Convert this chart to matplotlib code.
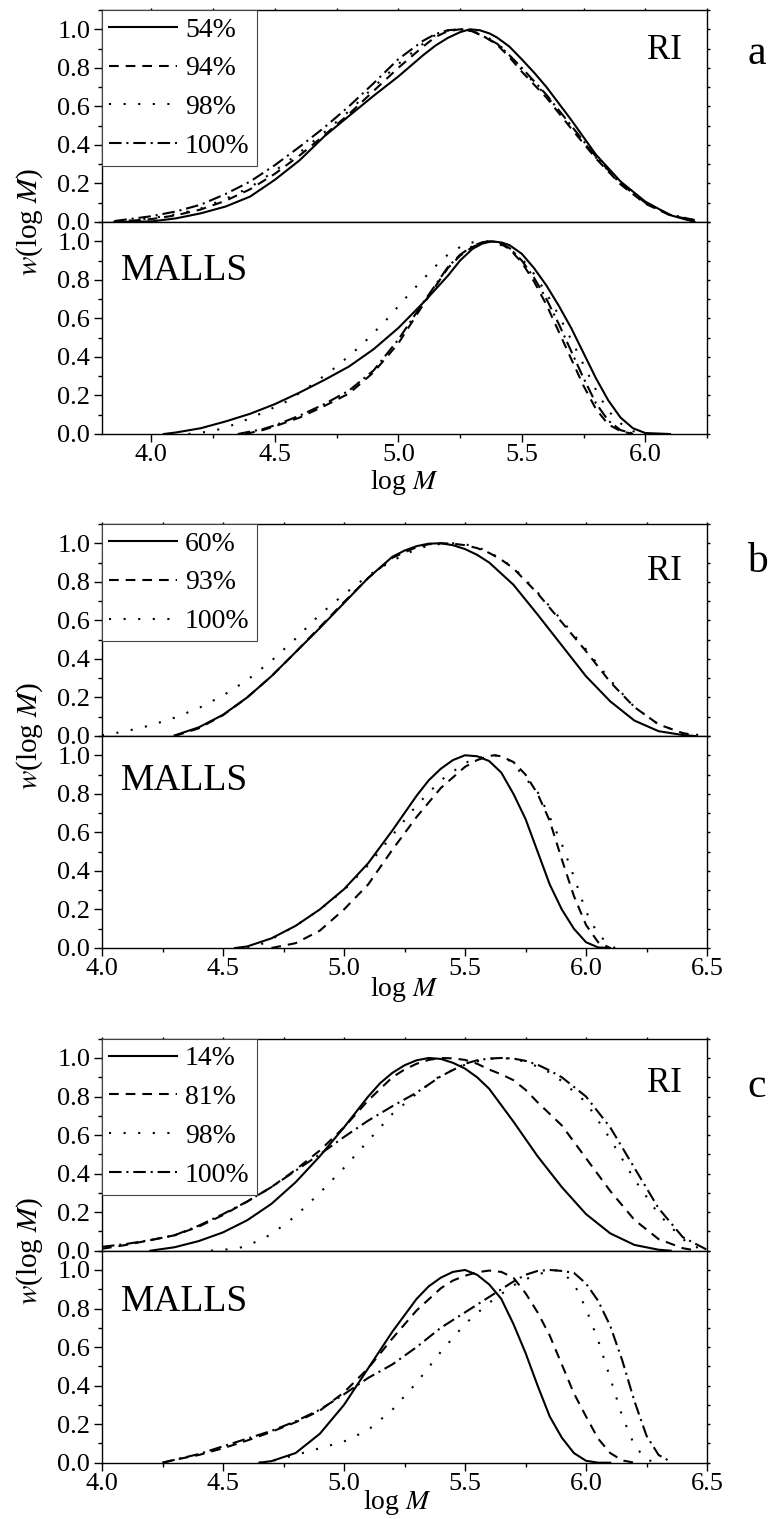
import matplotlib.pyplot as plt
from matplotlib.ticker import MultipleLocator, FormatStrFormatter

plt.rcParams['font.family'] = ['Liberation Serif', 'DejaVu Serif']
plt.rcParams['mathtext.fontset'] = 'stix'
plt.rcParams['lines.scale_dashes'] = False
plt.rcParams['axes.linewidth'] = 1.0

W, H = 773, 1519

# ---- panel a: conversions 54 / 94 / 98 / 100 % ----
a_labels = ['54%', '94%', '98%', '100%']

a_ri_x54 = [3.85, 4.0, 4.1, 4.2, 4.3, 4.4, 4.5, 4.6, 4.7, 4.8, 4.9, 5.0, 5.1, 5.15, 5.2, 5.25, 5.29, 5.33,
            5.37, 5.4, 5.45, 5.5, 5.55, 5.6, 5.7, 5.8, 5.9, 6.0, 6.1, 6.2]
a_ri_w54 = [0.0, 0.003, 0.019, 0.045, 0.08, 0.132, 0.219, 0.32, 0.444, 0.55, 0.655, 0.755, 0.865, 0.915,
            0.955, 0.985, 1.0, 0.995, 0.978, 0.957, 0.91, 0.844, 0.775, 0.70, 0.53, 0.35, 0.21, 0.106, 0.036,
            0.0]
a_ri_x = [3.85, 4.0, 4.1, 4.2, 4.3, 4.4, 4.5, 4.6, 4.7, 4.8, 4.9, 5.0, 5.1, 5.15, 5.2, 5.25, 5.3, 5.35, 5.4,
          5.45, 5.5, 5.6, 5.7, 5.8, 5.9, 6.0, 6.1, 6.2]
a_ri_w94 = [0.0, 0.015, 0.035, 0.065, 0.11, 0.17, 0.25, 0.345, 0.45, 0.56, 0.68, 0.8, 0.91, 0.96, 0.99, 1.0,
            0.99, 0.96, 0.92, 0.855, 0.78, 0.645, 0.485, 0.33, 0.195, 0.095, 0.035, 0.008]
a_ri_w98 = [0.0, 0.02, 0.04, 0.07, 0.12, 0.18, 0.265, 0.36, 0.465, 0.575, 0.7, 0.82, 0.925, 0.97, 0.993, 1.0,
            0.992, 0.965, 0.93, 0.865, 0.79, 0.655, 0.495, 0.335, 0.2, 0.1, 0.038, 0.01]
a_ri_w100 = [0.005, 0.03, 0.055, 0.09, 0.145, 0.21, 0.295, 0.39, 0.49, 0.6, 0.72, 0.845, 0.94, 0.975, 0.995,
             1.0, 0.99, 0.96, 0.925, 0.865, 0.8, 0.66, 0.5, 0.34, 0.2, 0.1, 0.038, 0.01]

a_ml_x54 = [4.05, 4.1, 4.2, 4.3, 4.4, 4.5, 4.6, 4.7, 4.8, 4.9, 5.0, 5.1, 5.2, 5.25, 5.3, 5.34, 5.38, 5.42,
            5.45, 5.5, 5.55, 5.6, 5.65, 5.7, 5.75, 5.8, 5.85, 5.9, 5.95, 6.0, 6.1]
a_ml_w54 = [0.0, 0.008, 0.03, 0.065, 0.105, 0.155, 0.215, 0.28, 0.35, 0.44, 0.55, 0.68, 0.82, 0.9, 0.96,
            0.988, 1.0, 0.993, 0.98, 0.935, 0.86, 0.77, 0.665, 0.55, 0.42, 0.29, 0.175, 0.085, 0.03, 0.005,
            0.0]
a_ml_x98 = [4.15, 4.25, 4.35, 4.45, 4.55, 4.65, 4.75, 4.85, 4.95, 5.05, 5.15, 5.2, 5.25, 5.29, 5.33, 5.37,
            5.4, 5.45, 5.5, 5.55, 5.6, 5.65, 5.7, 5.75, 5.8, 5.85, 5.9, 5.95, 6.0]
a_ml_w98 = [0.0, 0.015, 0.055, 0.11, 0.17, 0.255, 0.35, 0.46, 0.59, 0.735, 0.87, 0.93, 0.97, 0.992, 1.0,
            0.998, 0.99, 0.96, 0.91, 0.83, 0.73, 0.615, 0.49, 0.36, 0.23, 0.12, 0.055, 0.015, 0.0]
a_ml_x94 = [4.38, 4.45, 4.5, 4.6, 4.7, 4.8, 4.9, 5.0, 5.1, 5.2, 5.25, 5.3, 5.34, 5.37, 5.41, 5.45, 5.5, 5.55,
            5.6, 5.65, 5.7, 5.75, 5.8, 5.85, 5.9, 5.95]
a_ml_w94 = [0.0, 0.02, 0.04, 0.085, 0.145, 0.21, 0.32, 0.47, 0.67, 0.86, 0.925, 0.97, 0.993, 1.0, 0.99,
            0.96, 0.89, 0.79, 0.67, 0.53, 0.39, 0.25, 0.13, 0.05, 0.015, 0.0]
a_ml_x100 = [4.35, 4.45, 4.5, 4.6, 4.7, 4.8, 4.9, 5.0, 5.1, 5.2, 5.25, 5.3, 5.34, 5.37, 5.41, 5.45, 5.5,
             5.55, 5.6, 5.65, 5.7, 5.75, 5.8, 5.85, 5.9, 5.95]
a_ml_w100 = [0.0, 0.025, 0.045, 0.095, 0.155, 0.225, 0.33, 0.49, 0.68, 0.865, 0.93, 0.975, 0.995, 1.0, 0.993,
             0.965, 0.9, 0.81, 0.7, 0.57, 0.43, 0.29, 0.16, 0.07, 0.02, 0.003]

# ---- panel b: conversions 60 / 93 / 100 % ----
b_labels = ['60%', '93%', '100%']

b_ri_x60 = [4.3, 4.4, 4.5, 4.6, 4.7, 4.8, 4.9, 5.0, 5.1, 5.2, 5.25, 5.3, 5.35, 5.4, 5.45, 5.5, 5.55, 5.6,
            5.7, 5.8, 5.9, 6.0, 6.1, 6.2, 6.3, 6.4, 6.45]
b_ri_w60 = [0.003, 0.045, 0.11, 0.2, 0.31, 0.435, 0.56, 0.69, 0.82, 0.93, 0.962, 0.985, 0.998, 1.0, 0.99,
            0.97, 0.94, 0.9, 0.785, 0.63, 0.47, 0.31, 0.18, 0.08, 0.025, 0.005, 0.0]
b_ri_x93 = [4.3, 4.4, 4.5, 4.6, 4.7, 4.8, 4.9, 5.0, 5.1, 5.2, 5.3, 5.35, 5.4, 5.45, 5.5, 5.55, 5.6, 5.65,
            5.7, 5.8, 5.9, 6.0, 6.1, 6.2, 6.3, 6.4, 6.45]
b_ri_w93 = [0.0, 0.04, 0.108, 0.2, 0.31, 0.435, 0.565, 0.695, 0.82, 0.925, 0.98, 0.995, 1.0, 0.998, 0.99,
            0.975, 0.95, 0.915, 0.87, 0.74, 0.59, 0.44, 0.28, 0.15, 0.06, 0.015, 0.005]
b_ri_x100 = [4.0, 4.1, 4.2, 4.3, 4.4, 4.5, 4.6, 4.7, 4.8, 4.9, 5.0, 5.1, 5.2, 5.3, 5.35, 5.4, 5.45, 5.5,
             5.55, 5.6, 5.7, 5.8, 5.9, 6.0, 6.1, 6.2, 6.3, 6.4, 6.5]
b_ri_w100 = [0.003, 0.025, 0.055, 0.095, 0.145, 0.21, 0.29, 0.39, 0.505, 0.63, 0.735, 0.832, 0.91, 0.97,
             0.987, 0.997, 1.0, 0.995, 0.98, 0.955, 0.875, 0.745, 0.6, 0.45, 0.29, 0.15, 0.06, 0.015, 0.0]

b_ml_x60 = [4.55, 4.6, 4.7, 4.8, 4.9, 5.0, 5.1, 5.2, 5.3, 5.35, 5.4, 5.45, 5.5, 5.55, 5.6, 5.65, 5.7, 5.75,
            5.8, 5.85, 5.9, 5.95, 6.0, 6.05, 6.1]
b_ml_w60 = [0.0, 0.008, 0.05, 0.115, 0.2, 0.305, 0.44, 0.61, 0.79, 0.87, 0.93, 0.975, 1.0, 0.995, 0.97,
            0.91, 0.8, 0.67, 0.5, 0.33, 0.2, 0.1, 0.03, 0.003, 0.0]
b_ml_x93 = [4.7, 4.8, 4.9, 5.0, 5.1, 5.2, 5.3, 5.4, 5.5, 5.55, 5.6, 5.62, 5.65, 5.7, 5.75, 5.8, 5.85, 5.9,
            5.95, 6.0, 6.05, 6.1]
b_ml_w93 = [0.0, 0.025, 0.09, 0.2, 0.33, 0.51, 0.68, 0.83, 0.94, 0.975, 0.996, 1.0, 0.995, 0.965, 0.9, 0.8,
            0.66, 0.46, 0.27, 0.12, 0.03, 0.0]
b_ml_x100 = [4.6, 4.65, 4.7, 4.8, 4.9, 5.0, 5.1, 5.2, 5.3, 5.4, 5.5, 5.55, 5.6, 5.64, 5.67, 5.7, 5.75, 5.8,
             5.85, 5.9, 5.95, 6.0, 6.05, 6.1, 6.12]
b_ml_w100 = [0.0, 0.015, 0.045, 0.115, 0.2, 0.3, 0.43, 0.585, 0.74, 0.87, 0.96, 0.985, 0.997, 1.0, 0.985,
             0.955, 0.88, 0.81, 0.68, 0.54, 0.37, 0.19, 0.07, 0.015, 0.0]

# ---- panel c: conversions 14 / 81 / 98 / 100 % ----
c_labels = ['14%', '81%', '98%', '100%']

c_ri_x14 = [4.2, 4.3, 4.4, 4.5, 4.6, 4.7, 4.8, 4.9, 5.0, 5.1, 5.15, 5.2, 5.25, 5.3, 5.35, 5.4, 5.45, 5.5,
            5.55, 5.6, 5.7, 5.8, 5.9, 6.0, 6.1, 6.2, 6.3, 6.35]
c_ri_w14 = [0.0, 0.018, 0.05, 0.095, 0.158, 0.243, 0.355, 0.49, 0.64, 0.8, 0.87, 0.923, 0.962, 0.988, 1.0,
            0.995, 0.975, 0.945, 0.9, 0.84, 0.67, 0.49, 0.33, 0.19, 0.09, 0.03, 0.005, 0.0]
c_ri_x81 = [4.0, 4.1, 4.2, 4.3, 4.4, 4.5, 4.6, 4.7, 4.8, 4.9, 5.0, 5.1, 5.2, 5.25, 5.3, 5.35, 5.4, 5.45,
            5.5, 5.55, 5.6, 5.65, 5.7, 5.75, 5.8, 5.9, 6.0, 6.1, 6.2, 6.3, 6.4, 6.45]
c_ri_w81 = [0.01, 0.03, 0.055, 0.08, 0.125, 0.185, 0.255, 0.33, 0.42, 0.52, 0.64, 0.78, 0.9, 0.94, 0.97,
            0.99, 1.0, 0.998, 0.99, 0.97, 0.94, 0.915, 0.885, 0.835, 0.77, 0.65, 0.48, 0.31, 0.16, 0.06,
            0.013, 0.002]
c_ri_x98 = [4.45, 4.55, 4.6, 4.7, 4.8, 4.9, 5.0, 5.1, 5.2, 5.3, 5.4, 5.5, 5.55, 5.6, 5.65, 5.7, 5.75, 5.8,
            5.85, 5.9, 6.0, 6.1, 6.2, 6.3, 6.4, 6.45, 6.5]
c_ri_w98 = [0.0, 0.01, 0.025, 0.085, 0.18, 0.3, 0.43, 0.57, 0.71, 0.815, 0.91, 0.965, 0.982, 0.995, 1.0,
            0.995, 0.98, 0.955, 0.925, 0.88, 0.77, 0.58, 0.37, 0.19, 0.06, 0.02, 0.005]
c_ri_x100 = [4.0, 4.1, 4.2, 4.3, 4.4, 4.5, 4.6, 4.7, 4.8, 4.9, 5.0, 5.1, 5.2, 5.3, 5.4, 5.5, 5.55, 5.6,
             5.65, 5.7, 5.75, 5.8, 5.85, 5.9, 6.0, 6.1, 6.2, 6.3, 6.4, 6.5]
c_ri_w100 = [0.02, 0.035, 0.055, 0.08, 0.13, 0.19, 0.255, 0.33, 0.415, 0.5, 0.59, 0.675, 0.75, 0.82, 0.905,
             0.97, 0.988, 0.997, 1.0, 0.997, 0.985, 0.965, 0.935, 0.9, 0.8, 0.64, 0.43, 0.22, 0.07, 0.005]

c_ml_x14 = [4.65, 4.7, 4.8, 4.9, 5.0, 5.1, 5.2, 5.3, 5.35, 5.4, 5.45, 5.5, 5.55, 5.6, 5.65, 5.7, 5.75, 5.8,
            5.85, 5.9, 5.95, 6.0, 6.05, 6.1]
c_ml_w14 = [0.0, 0.008, 0.05, 0.15, 0.3, 0.49, 0.68, 0.85, 0.915, 0.96, 0.99, 1.0, 0.975, 0.925, 0.85, 0.72,
            0.57, 0.4, 0.24, 0.13, 0.05, 0.01, 0.0, 0.0]
c_ml_x81 = [4.25, 4.3, 4.4, 4.5, 4.6, 4.7, 4.8, 4.9, 5.0, 5.1, 5.2, 5.3, 5.4, 5.45, 5.5, 5.55, 5.6, 5.65,
            5.7, 5.75, 5.8, 5.85, 5.9, 5.95, 6.0, 6.05, 6.1, 6.15, 6.2]
c_ml_w81 = [0.0, 0.015, 0.04, 0.075, 0.115, 0.16, 0.21, 0.27, 0.365, 0.49, 0.645, 0.79, 0.905, 0.945, 0.97,
            0.988, 0.997, 0.99, 0.96, 0.88, 0.78, 0.66, 0.51, 0.36, 0.24, 0.125, 0.05, 0.012, 0.0]
c_ml_x98 = [4.65, 4.7, 4.8, 4.9, 5.0, 5.1, 5.2, 5.3, 5.4, 5.5, 5.6, 5.7, 5.75, 5.8, 5.84, 5.87, 5.9, 5.95,
            6.0, 6.05, 6.1, 6.15, 6.2, 6.25, 6.3]
c_ml_w98 = [0.0, 0.008, 0.04, 0.075, 0.11, 0.17, 0.275, 0.415, 0.575, 0.72, 0.83, 0.92, 0.952, 0.975, 0.993,
            1.0, 0.99, 0.93, 0.8, 0.635, 0.44, 0.24, 0.09, 0.015, 0.0]
c_ml_x100 = [4.25, 4.3, 4.4, 4.5, 4.6, 4.7, 4.8, 4.9, 5.0, 5.1, 5.2, 5.3, 5.4, 5.5, 5.6, 5.7, 5.75, 5.8,
             5.85, 5.9, 5.95, 6.0, 6.05, 6.1, 6.15, 6.2, 6.25, 6.3, 6.35]
c_ml_w100 = [0.0, 0.015, 0.045, 0.085, 0.125, 0.165, 0.215, 0.275, 0.355, 0.44, 0.51, 0.6, 0.7, 0.78, 0.86,
             0.94, 0.975, 0.995, 1.0, 0.995, 0.985, 0.93, 0.84, 0.71, 0.53, 0.32, 0.14, 0.04, 0.005]

SOLID = '-'
DASH = (0, (7, 5))
DOT = (0, (1.5, 9))
DASHDOT = (0, (9, 3.5, 1.5, 3.5))

fig = plt.figure(figsize=(W / 100, H / 100), dpi=100)


def px_box(left, top, right, bottom):
    return [left / W, 1 - bottom / H, (right - left) / W, (bottom - top) / H]


def put(x, y, s, **kw):
    fig.text(x / W, 1 - y / H, s, **kw)


def style_axes(ax, xlim, is_bottom, xpad):
    ax.set_xlim(*xlim)
    ax.set_ylim(0, 1.1)
    ax.xaxis.set_major_locator(MultipleLocator(0.5))
    ax.xaxis.set_minor_locator(MultipleLocator(0.25))
    ax.yaxis.set_major_locator(MultipleLocator(0.2))
    ax.yaxis.set_minor_locator(MultipleLocator(0.1))
    ax.xaxis.set_major_formatter(FormatStrFormatter('%.1f'))
    ax.yaxis.set_major_formatter(FormatStrFormatter('%.1f'))
    ax.tick_params(which='both', direction='out', width=1, labelsize=19)
    ax.tick_params(axis='y', which='major', length=5.5, pad=3)
    ax.tick_params(axis='y', which='minor', length=3)
    ax.tick_params(axis='x', which='major', length=5.5, pad=xpad)
    ax.tick_params(axis='x', which='minor', length=3)
    # short marks on the right spine, and on the top spine of the upper plot
    ax.tick_params(axis='y', which='both', right=True, labelright=False)
    if is_bottom:
        ax.tick_params(axis='x', which='both', top=False)
    else:
        ax.tick_params(axis='x', which='both', bottom=False, labelbottom=False, top=True)
    for t in ax.yaxis.get_ticklines(minor=False)[1::2] + ax.yaxis.get_ticklines(minor=True)[1::2]:
        t.set_markersize(1.8)
    for t in ax.xaxis.get_ticklines(minor=False)[1::2] + ax.xaxis.get_ticklines(minor=True)[1::2]:
        t.set_markersize(1.8)


def draw_panel(top, xlim, ri, malls, labels, styles, letter, ri_base, ml_base, letter_base, xlab_x, xlab_base,
               xpad):
    ax_ri = fig.add_axes(px_box(102, top, 707, top + 212))
    ax_ml = fig.add_axes(px_box(102, top + 212, 707, top + 424))
    for ax, curves in ((ax_ri, ri), (ax_ml, malls)):
        for (x, w), ls, lab in zip(curves, styles, labels):
            ax.plot(x, w, color='black', lw=1.5, linestyle=ls, label=lab)
    style_axes(ax_ri, xlim, False, xpad)
    style_axes(ax_ml, xlim, True, xpad)

    leg = ax_ri.legend(loc='upper left', bbox_to_anchor=(0, 1), borderaxespad=0, fontsize=20,
                       handlelength=2.45, handletextpad=0.28, labelspacing=0.48, borderpad=0.26,
                       fancybox=False, framealpha=1, edgecolor='#444444')
    leg.get_frame().set_linewidth(0.8)

    put(682, ri_base, 'RI', fontsize=25, ha='right', va='baseline')
    put(121, ml_base, 'MALLS', fontsize=27, ha='left', va='baseline')
    put(757, letter_base, letter, fontsize=30, ha='center', va='baseline')
    put(xlab_x, xlab_base, r'log $M$', fontsize=20, ha='center', va='baseline')
    put(30, top + 212, r'$w$(log $M$)', fontsize=21, ha='center', va='center', rotation=90)


draw_panel(10, (3.8, 6.25),
           [(a_ri_x54, a_ri_w54), (a_ri_x, a_ri_w94), (a_ri_x, a_ri_w98), (a_ri_x, a_ri_w100)],
           [(a_ml_x54, a_ml_w54), (a_ml_x94, a_ml_w94), (a_ml_x98, a_ml_w98), (a_ml_x100, a_ml_w100)],
           a_labels, [SOLID, DASH, DOT, DASHDOT], 'a', 59, 280, 64, 404, 489, 2)

draw_panel(524, (4.0, 6.5),
           [(b_ri_x60, b_ri_w60), (b_ri_x93, b_ri_w93), (b_ri_x100, b_ri_w100)],
           [(b_ml_x60, b_ml_w60), (b_ml_x93, b_ml_w93), (b_ml_x100, b_ml_w100)],
           b_labels, [SOLID, DASH, DOT], 'b', 580, 790, 572, 404, 996, 2)

draw_panel(1038.7, (4.0, 6.5),
           [(c_ri_x14, c_ri_w14), (c_ri_x81, c_ri_w81), (c_ri_x98, c_ri_w98), (c_ri_x100, c_ri_w100)],
           [(c_ml_x14, c_ml_w14), (c_ml_x81, c_ml_w81), (c_ml_x98, c_ml_w98), (c_ml_x100, c_ml_w100)],
           c_labels, [SOLID, DASH, DOT, DASHDOT], 'c', 1092, 1311, 1097, 397, 1509, 2)

fig.savefig('out.png', dpi=100)
